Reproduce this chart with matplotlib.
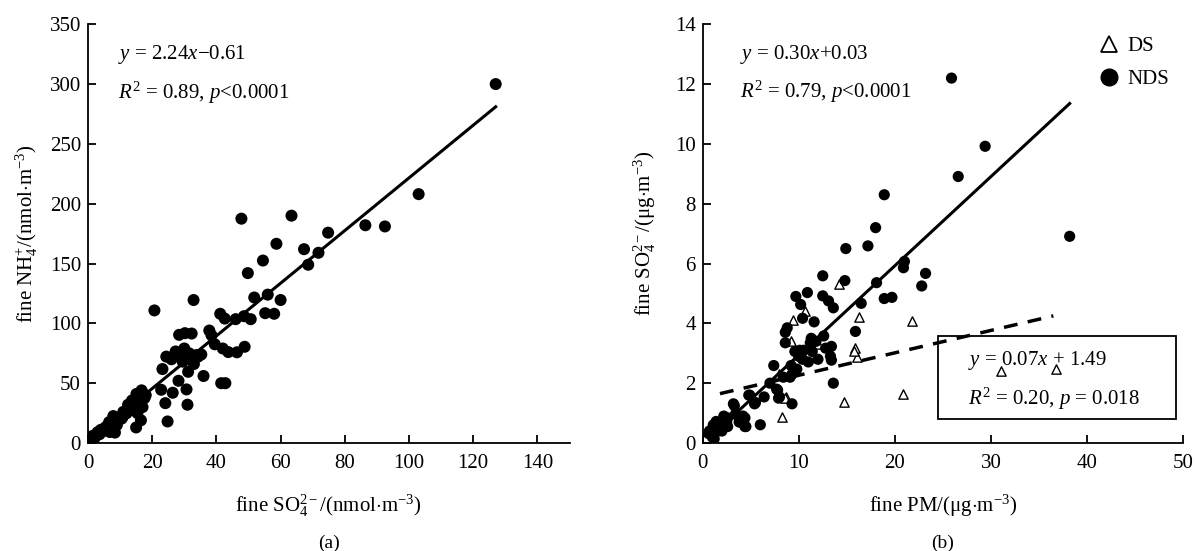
import numpy as np
import matplotlib
matplotlib.use('Agg')
import matplotlib.pyplot as plt
from matplotlib.patches import Rectangle
from matplotlib.lines import Line2D

plt.rcParams['font.family'] = ['Liberation Serif', 'DejaVu Serif']
plt.rcParams['mathtext.fontset'] = 'custom'
plt.rcParams['mathtext.rm'] = 'Liberation Serif'
plt.rcParams['mathtext.it'] = 'Liberation Serif:italic'
plt.rcParams['mathtext.bf'] = 'Liberation Serif:bold'

# panel (a): fine SO4 vs fine NH4 (nmol m-3)
so4_a = [127, 103, 92.5, 86.4, 63.4, 47.8, 74.8, 58.7, 67.3, 71.8, 68.6, 54.5, 49.8, 51.8,
         60, 56, 55.2, 58, 32.9, 20.7, 41.2, 42.6, 46, 48.6, 50.7, 37.8, 28.4, 30.2, 32.3,
         39.5, 42, 43.7, 46.4, 48.8, 24.4, 27.3, 30, 31.5, 33.8, 35.3, 31.2, 23.2, 36, 41.5,
         42.8, 28.2, 26.4, 30.7, 22.8, 24.1, 31, 24.8, 16.7, 15.1, 13.7, 16.2, 17.6, 13.2,
         15.4, 15, 16.5, 12, 7.9, 8.4, 8.4, 5.4, 4.8, 3.6, 2.4, 1.2, 0.6, 6.6, 9.6, 10.8,
         10.5, 6.8, 29.5, 33, 26, 14.5, 12.5, 11, 6, 3, 1.5, 9, 18, 17, 31.8, 34.3, 28.5,
         38.5, 2.0, 4.0, 7.2]
nh4_a = [300, 208, 181, 182, 190, 187.5, 175.8, 166.5, 162, 159, 149, 152.5, 142, 121.6,
         119.5, 124, 108.5, 108, 119.5, 110.8, 108, 104, 103.5, 106, 103.5, 94, 90.4, 91.8, 91.5,
         82.5, 79, 76, 75.8, 80.4, 72.2, 76.5, 79, 75, 73.5, 74, 59.5, 61.8, 56, 50,
         50, 52, 42, 44.8, 44.5, 33.3, 32, 18, 44, 41, 35.5, 33.5, 37.5, 29,
         25, 13, 19, 24.8, 22.5, 17.5, 8.7, 13, 10, 7.3, 5.8, 4.4, 2.9, 17.5, 20.4, 21.9,
         20.4, 9.2, 68, 66, 70, 30, 32, 26, 14, 9, 6, 15, 40, 30, 72.2, 72.2, 74,
         90, 4.0, 11, 15]
fit_a_x = [0, 127]
fit_a_y = [1.5, 281]

# panel (b): fine PM vs fine SO4 (ug m-3)
pm_nds = [25.9, 29.4, 26.6, 38.2, 18.9, 18.0, 17.2, 14.9, 14.8, 12.5, 23.2, 22.8, 20.9, 21.0,
          18.1, 18.9, 19.7, 16.5, 15.9, 10.9, 9.7, 10.2, 12.5, 13.1, 13.6, 10.4, 11.6, 8.6,
          8.8, 8.6, 9.6, 9.2, 9.8, 9.3, 11.2, 11.4, 11.0, 12.6, 12.8, 13.4, 13.4, 13.6, 7.4,
          7.8, 8.0, 9.3, 6.4, 5.4, 4.8, 6.0, 4.4, 4.4, 3.2, 3.4, 2.6, 2.2, 1.8, 2.6, 1.4,
          0.6, 1.2, 1.4, 10.0, 10.5, 12.0, 11.8, 3.8, 2.0, 1.0, 7.0, 8.4, 11.3, 10.1, 10.4,
          9.1, 7.7, 7.9, 5.5, 4.9, 3.3, 3.9, 2.5, 1.1, 0.7, 4.2, 4.5, 13.3]
so4_nds = [12.2, 9.92, 8.91, 6.91, 8.3, 7.2, 6.59, 6.5, 5.43, 5.59, 5.67, 5.25, 5.86, 6.07,
           5.36, 4.83, 4.87, 4.67, 3.73, 5.03, 4.9, 4.63, 4.92, 4.75, 4.52, 4.17, 4.05, 3.7,
           3.85, 3.35, 3.06, 2.59, 2.47, 2.3, 3.35, 3.06, 2.71, 3.58, 3.17, 3.23, 2.77, 2.0, 2.59,
           1.77, 1.54, 1.31, 1.54, 1.31, 1.6, 0.61, 0.84, 0.55, 1.31, 0.96, 0.84, 0.9, 0.67, 0.55,
           0.72, 0.32, 0.14, 0.37, 2.9, 3.1, 2.8, 3.4, 0.7, 0.4, 0.2, 2.0, 2.2, 3.5, 3.1, 2.8,
           2.2, 1.8, 1.5, 1.35, 1.6, 1.25, 0.8, 0.7, 0.6, 0.4, 0.9, 0.55, 2.9]
pm_ds = [21.8, 16.3, 15.9, 16.1, 14.2, 10.6, 9.4, 9.2, 20.8, 14.7, 8.3, 8.7, 7.9, 31.0,
         36.8, 12.0, 15.7, 8.6]
so4_ds = [4.07, 4.2, 3.17, 2.88, 5.33, 4.42, 4.12, 3.41, 1.63, 1.37, 0.86, 1.53, 2.3, 2.42,
          2.47, 3.3, 3.09, 1.51]
fit_nds_x = [1.0, 38.2]
fit_nds_y = [0.26, 11.35]
fit_ds_x = [1.8, 36.5]
fit_ds_y = [1.65, 4.25]

fig = plt.figure(figsize=(11.95, 5.51), dpi=100)
ax1 = fig.add_axes([0.0736, 0.196, 0.403, 0.760])
ax2 = fig.add_axes([0.588, 0.196, 0.402, 0.760])

fs = 15

def style(ax):
    for s in ['top', 'right']:
        ax.spines[s].set_visible(False)
    for s in ['left', 'bottom']:
        ax.spines[s].set_linewidth(1.3)
    ax.tick_params(direction='in', length=6, width=1.3, labelsize=fs)
    ax.tick_params(axis='x', pad=8)
    ax.tick_params(axis='y', pad=5)

# (a)
ax1.scatter(so4_a, nh4_a, s=75, c='black', edgecolors='none', zorder=3)
ax1.plot(fit_a_x, fit_a_y, color='black', lw=2.2, zorder=4)
ax1.set_xlim(0, 150)
ax1.set_ylim(0, 350)
ax1.set_xticks(np.arange(0, 141, 20))
ax1.set_yticks(np.arange(0, 351, 50))
style(ax1)
ax1.set_xlabel('fine SO$_4^{2-}$/(nmol$\\cdot$m$^{-3}$)', fontsize=fs, labelpad=14)
ax1.set_ylabel('fine NH$_4^{+}$/(nmol$\\cdot$m$^{-3}$)', fontsize=fs, labelpad=7)
ax1.text(9.3, 325, '$y$ = 2.24$x$\u22120.61', fontsize=fs, va='center')
ax1.text(9.3, 293, '$R^2$ = 0.89, $p$<0.0001', fontsize=fs, va='center')
ax1.text(0.5, -0.24, '(a)', transform=ax1.transAxes, ha='center', va='center', fontsize=fs - 1)

# (b)
ax2.scatter(pm_ds, so4_ds, s=45, marker='^', facecolors='white', edgecolors='black',
            linewidths=1.0, zorder=3, label='DS')
ax2.scatter(pm_nds, so4_nds, s=65, c='black', edgecolors='none', zorder=3.5, label='NDS')
ax2.plot(fit_nds_x, fit_nds_y, color='black', lw=2.2, zorder=4)
ax2.plot(fit_ds_x, fit_ds_y, color='black', lw=2.5, ls=(0, (4, 3)), zorder=4)
ax2.set_xlim(0, 50)
ax2.set_ylim(0, 14)
ax2.set_xticks(np.arange(0, 51, 10))
ax2.set_yticks(np.arange(0, 15, 2))
style(ax2)
ax2.set_xlabel('fine PM/(\u03bcg$\\cdot$m$^{-3}$)', fontsize=fs, labelpad=14)
ax2.set_ylabel('fine SO$_4^{2-}$/(\u03bcg$\\cdot$m$^{-3}$)', fontsize=fs, labelpad=12)
ax2.text(3.85, 13.0, '$y$ = 0.30$x$+0.03', fontsize=fs, va='center')
ax2.text(3.85, 11.75, '$R^2$ = 0.79, $p$<0.0001', fontsize=fs, va='center')
ax2.add_patch(Rectangle((24.5, 0.8), 24.8, 2.77, fill=False, edgecolor='black', lw=1.3, zorder=5))
ax2.text(27.6, 2.75, '$y$ = 0.07$x$ + 1.49', fontsize=fs, va='center', zorder=6)
ax2.text(27.6, 1.47, '$R^2$ = 0.20, $p$ = 0.018', fontsize=fs, va='center', zorder=6)
ax2.text(0.5, -0.24, '(b)', transform=ax2.transAxes, ha='center', va='center', fontsize=fs - 1)

handles = [Line2D([], [], ls='none', marker='^', ms=11, mfc='white', mec='black', mew=1.3),
           Line2D([], [], ls='none', marker='o', ms=12, mfc='black', mec='black')]
ax2.legend(handles, ['DS', 'NDS'], loc='upper right', bbox_to_anchor=(1.01, 1.015),
           frameon=False, fontsize=fs, handletextpad=0.3, labelspacing=0.65, handlelength=1.2)

fig.savefig('out.png', dpi=100)
